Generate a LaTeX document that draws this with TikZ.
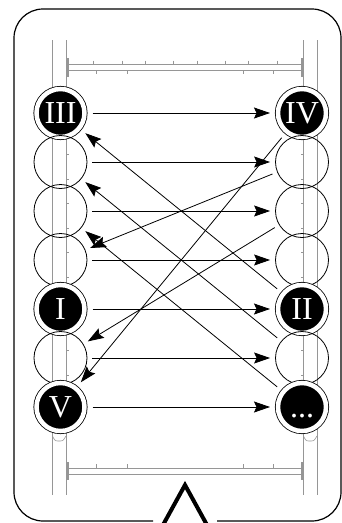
\documentclass[tikz,border=0pt]{standalone}
\usepackage{fontspec}
\setmainfont{Liberation Serif}
\usepackage{tikz}
\usetikzlibrary{positioning,arrows.meta}
\definecolor{railgray}{RGB}{150,150,150}
\tikzset{
  slot/.style={
    circle,
    draw,
    line width=0.8pt,
    minimum size=53pt,
    inner sep=0pt
  },
  marked/.style={
    slot,
    fill=black,
    double=white,
    double distance=4.5pt,
    minimum size=48pt,
    outer sep=3pt,
    text=white,
    font=\fontsize{32}{32}\selectfont,
    text height=21pt,
    text depth=0pt
  },
  rail/.style={
    draw=railgray,
    line width=0.6pt
  },
  arrow/.style={
    -{Stealth[length=16pt,width=11pt,inset=2.5pt]},
    line width=0.8pt,
    shorten <=5pt,
    shorten >=5pt
  }
}
\begin{document}
\begin{tikzpicture}[x=1pt, y=-1pt, node distance=49pt, on grid]
  \useasboundingbox (0,0) rectangle (342,523);
  % frame with the pointer
  \draw[line width=1.2pt, rounded corners=29pt] (217,521) -- (341,521) -- (341,9) -- (14,9) -- (14,521) -- (153,521);
  \draw[line width=4pt] (163,525) -- (185,485) -- (207,525);

  % rails and bars
  \draw[rail] (52.5,40) -- (52.5,495) (66,40) -- (66,495);
  \draw[rail] (303.5,40) -- (303.5,495) (317,40) -- (317,495);
  \draw[rail] (68,64.5) -- (302,64.5) (68,70) -- (302,70);
  \draw[rail] (68,468) -- (302,468) (68,474) -- (302,474);
  \draw[railgray, line width=2pt] (68,58) -- (68,77) (302,58) -- (302,77) (68,462) -- (68,480) (302,462) -- (302,480);
  \foreach \x in {93,122,145,173,197,225,248,277} \draw[rail] (\x,60.5) -- (\x,64.5);
  \foreach \x in {96,127,243,273} \draw[rail] (\x,70) -- (\x,74) (\x,464) -- (\x,468);
  \foreach \y in {154.5,179,...,375} \draw[rail] (66,\y) -- (69,\y) (303.5,\y) -- (300.5,\y);
  \draw[rail] (52.5,436) .. controls (55,441) .. (59,441) .. controls (63,441) .. (66,436);
  \draw[rail] (303.5,436) .. controls (306,441) .. (310,441) .. controls (314,441) .. (317,436);

  % left column
  \node[marked] (l1) at (60.5,113) {III};
  \node[slot, below=of l1] (l2) {};
  \node[slot, below=of l2] (l3) {};
  \node[slot, below=of l3] (l4) {};
  \node[marked, below=of l4] (l5) {I};
  \node[slot, below=of l5] (l6) {};
  \node[marked, below=of l6] (l7) {V};
  % right column
  \node[marked, right=241.5pt of l1] (r1) {IV};
  \node[slot, below=of r1] (r2) {};
  \node[slot, below=of r2] (r3) {};
  \node[slot, below=of r3] (r4) {};
  \node[marked, below=of r4] (r5) {II};
  \node[slot, below=of r5] (r6) {};
  \node[marked, below=of r6] (r7) {...};

  \draw[arrow] (l1) -- (r1);
  \draw[arrow] (l2) -- (r2);
  \draw[arrow] (l3) -- (r3);
  \draw[arrow] (l4) -- (r4);
  \draw[arrow] (l5) -- (r5);
  \draw[arrow] (l6) -- (r6);
  \draw[arrow] (l7) -- (r7);

  \draw[arrow] (r5) -- (l1);
  \draw[arrow] (r6) -- (l2);
  \draw[arrow] (r7) -- (l3);
  \draw[arrow] (r1) -- (l7);
  \draw[arrow] (r2) -- (l4);
  \draw[arrow] (r3) -- (l6);
\end{tikzpicture}
\end{document}
